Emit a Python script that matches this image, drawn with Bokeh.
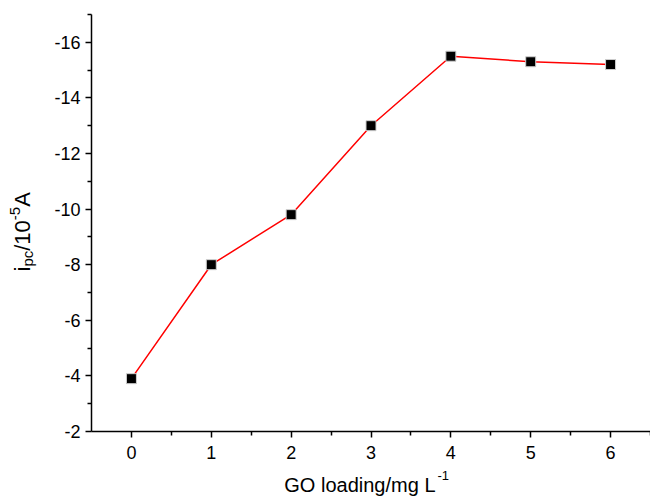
import math
from bokeh.plotting import figure
from bokeh.models import Range1d, FixedTicker, Label
from bokeh.embed import file_html
from bokeh.resources import INLINE

# ---- data ----
go_loading = [0, 1, 2, 3, 4, 5, 6]
ipc = [-3.9, -8.0, -9.8, -13.0, -15.5, -15.3, -15.2]
x_ticks = [0, 1, 2, 3, 4, 5, 6]
x_minor = [0.5, 1.5, 2.5, 3.5, 4.5, 5.5, 6.5]
y_ticks = [-16, -14, -12, -10, -8, -6, -4, -2]
y_minor = [-17, -15, -13, -11, -9, -7, -5, -3]
y_tick_labels = ["-16", "-14", "-12", "-10", "-8", "-6", "-4", "-2"]

FONT = "Liberation Sans"
W, H = 650, 498
FL, FR, FT, FB = 91, 650, 14, 431   # axis box edges in pixels
X0, X1 = -0.5, 6.5
Y0, Y1 = -2, -17


def dx(px):
    return X0 + (px - FL) / (FR - FL) * (X1 - X0)


def dy(py):
    return Y0 + (FB - py) / (FB - FT) * (Y1 - Y0)


p = figure(width=W, height=H, output_backend="svg", toolbar_location=None,
           x_range=Range1d(dx(0), dx(W)), y_range=Range1d(dy(H), dy(0)),
           min_border_left=0, min_border_right=0, min_border_top=0, min_border_bottom=0)
p.outline_line_color = None
p.xgrid.visible = False
p.ygrid.visible = False
p.background_fill_color = "white"
p.border_fill_color = "white"

xa = p.xaxis[0]
ya = p.yaxis[0]
xa.fixed_location = Y0
ya.fixed_location = X0
xa.bounds = (X0, X1)
ya.bounds = (min(Y0, Y1), max(Y0, Y1))

for ax in (xa, ya):
    ax.axis_line_width = 1.5
    ax.axis_line_color = "black"
    ax.major_tick_line_width = 1.5
    ax.minor_tick_line_width = 1.5
    ax.major_tick_in = 0
    ax.major_tick_out = 6
    ax.minor_tick_in = 0
    ax.minor_tick_out = 4
    ax.major_label_text_font = FONT
    ax.major_label_text_font_size = "18px"
    ax.major_label_text_color = "black"

xa.ticker = FixedTicker(ticks=x_ticks, minor_ticks=x_minor)
ya.ticker = FixedTicker(ticks=y_ticks, minor_ticks=y_minor)
ya.major_label_overrides = {t: l for t, l in zip(y_ticks, y_tick_labels)}
xa.major_label_standoff = 8
ya.major_label_standoff = 5

p.line(go_loading, ipc, line_color="#ff0000", line_width=1.5)
p.scatter(go_loading, ipc, marker="square", size=10, fill_color="black",
          line_color="#cfcfcf", line_width=1)

# ---- x axis title: GO loading/mg L^-1 ----
p.add_layout(Label(x=dx(435), y=dy(484), text="GO loading/mg L", text_align="right",
                   text_baseline="alphabetic", text_font=FONT, text_font_size="20px",
                   text_color="black"))
p.add_layout(Label(x=dx(437), y=dy(475), text="-1", text_align="left",
                   text_baseline="alphabetic", text_font=FONT, text_font_size="13px",
                   text_color="black"))

# ---- y axis title: i_pc/10^-5 A (rotated) ----
main_fs, small_fs = 22, 15
base_px = 22
pieces = [
    ("i", main_fs, 0, 0.222),
    ("pc", small_fs, 5, 0.556 + 0.500),
    ("/10", main_fs, 0, 0.278 + 0.556 + 0.556),
    ("-5", small_fs, -8, 0.333 + 0.556),
    ("A", main_fs, 0, 0.667),
]
cur = 271.0
for txt, fs, shift, em in pieces:
    p.add_layout(Label(x=dx(base_px + shift), y=dy(cur), text=txt, angle=math.pi / 2,
                       text_align="left", text_baseline="alphabetic", text_font=FONT,
                       text_font_size=f"{fs}px", text_color="black"))
    cur -= em * fs

open("out.html", "w").write(file_html(p, INLINE))
